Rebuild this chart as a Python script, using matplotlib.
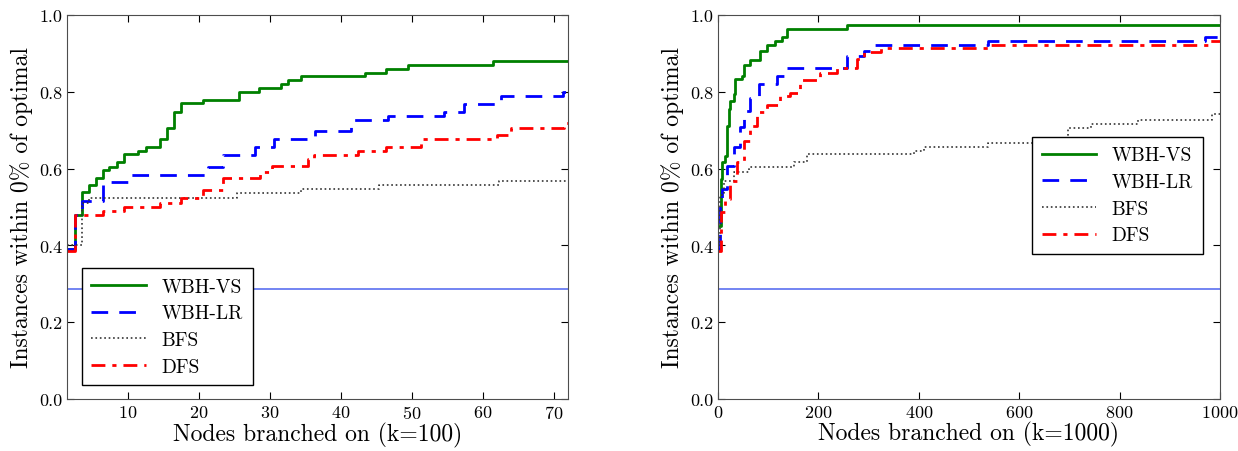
import matplotlib
matplotlib.use('Agg')
import matplotlib.pyplot as plt

plt.rcParams['font.family'] = 'serif'
plt.rcParams['font.serif'] = ['cmr10']
plt.rcParams['mathtext.fontset'] = 'cm'
plt.rcParams['axes.formatter.use_mathtext'] = True

# k=100 panel
l_vs_x = [1.4, 2.5, 3.5, 4.55, 5.5, 6.5, 7.3, 8.5, 9.5, 11.4, 12.6, 14.5, 15.5, 16.5, 17.5, 20.6, 25.6, 28.5, 31.5, 32.5, 34.4, 43.4, 46.3, 49.4, 61.4, 72]
l_vs_y = [0.39, 0.48, 0.54, 0.556, 0.575, 0.596, 0.605, 0.617, 0.638, 0.647, 0.657, 0.677, 0.707, 0.747, 0.77, 0.779, 0.80, 0.81, 0.82, 0.83, 0.841, 0.85, 0.86, 0.87, 0.88, 0.88]
l_lr_x = [1.4, 2.5, 3.5, 6.5, 10.3, 21.3, 23.4, 27.9, 30.5, 36.4, 41.4, 46.7, 54.5, 57.3, 62.5, 71.3, 72]
l_lr_y = [0.39, 0.48, 0.515, 0.565, 0.584, 0.605, 0.636, 0.657, 0.677, 0.698, 0.727, 0.738, 0.748, 0.768, 0.789, 0.80, 0.80]
l_bfs_x = [1.4, 3.5, 4.5, 25.4, 34.4, 45.3, 62.3, 72]
l_bfs_y = [0.40, 0.51, 0.523, 0.536, 0.546, 0.557, 0.567, 0.567]
l_dfs_x = [1.4, 2.5, 6.5, 9.5, 14.5, 17.4, 20.6, 23.4, 28.6, 30.3, 35.3, 36.2, 42.4, 46.3, 51.3, 62, 63.9, 71.5, 72]
l_dfs_y = [0.385, 0.48, 0.49, 0.50, 0.51, 0.523, 0.544, 0.575, 0.59, 0.606, 0.626, 0.636, 0.647, 0.657, 0.677, 0.687, 0.707, 0.72, 0.72]

# k=1000 panel
r_vs_x = [0, 5, 7, 14, 17, 21, 24, 31, 34, 47, 51, 64, 84, 97, 114, 127, 137, 257, 1000]
r_vs_y = [0.45, 0.573, 0.616, 0.634, 0.712, 0.755, 0.777, 0.794, 0.833, 0.842, 0.871, 0.883, 0.905, 0.922, 0.933, 0.944, 0.964, 0.974, 0.974]
r_lr_x = [0, 4, 7, 17, 31, 43, 51, 64, 81, 117, 131, 257, 291, 311, 537, 971, 1000]
r_lr_y = [0.39, 0.52, 0.547, 0.608, 0.655, 0.708, 0.75, 0.783, 0.82, 0.842, 0.861, 0.894, 0.905, 0.922, 0.931, 0.944, 0.944]
r_bfs_x = [0, 4, 11, 31, 61, 151, 177, 391, 411, 537, 671, 697, 744, 837, 984, 1000]
r_bfs_y = [0.40, 0.53, 0.567, 0.59, 0.605, 0.616, 0.638, 0.647, 0.657, 0.667, 0.677, 0.707, 0.717, 0.727, 0.742, 0.742]
r_dfs_x = [0, 5, 14, 24, 37, 51, 64, 77, 97, 124, 144, 164, 204, 237, 277, 291, 324, 544, 977, 1000]
r_dfs_y = [0.385, 0.486, 0.52, 0.567, 0.616, 0.673, 0.71, 0.747, 0.765, 0.789, 0.798, 0.83, 0.849, 0.861, 0.885, 0.903, 0.913, 0.922, 0.933, 0.933]

baseline = 0.286
labels = ['WBH-VS', 'WBH-LR', 'BFS', 'DFS']

fig = plt.figure(figsize=(12.38, 4.52), dpi=100)
ax1 = fig.add_axes([67/1238, 1-400/452, 501/1238, 384/452])
ax2 = fig.add_axes([718/1238, 1-400/452, 502/1238, 384/452])

def draw(ax, series, xlim, xlabel):
    styles = [dict(color='green', ls='-'),
              dict(color='blue', ls=(0, (6, 4))),
              dict(color='0.2', ls=':'),
              dict(color='red', ls=(0, (5, 2.5, 1.5, 2.5)))]
    for (x, y), lab, st in zip(series, labels, styles):
        ax.plot(x, y, drawstyle='steps-post', lw=2 if st['ls'] != ':' else 1.2, label=lab, **st)
    ax.axhline(baseline, color='#5b6ff0', lw=1.2)
    ax.set_xlim(*xlim)
    ax.set_ylim(0, 1.0)
    ax.set_yticks([0.0, 0.2, 0.4, 0.6, 0.8, 1.0])
    ax.set_yticklabels(['0.0', '0.2', '0.4', '0.6', '0.8', '1.0'])
    ax.tick_params(direction='in', top=True, right=True, labelsize=13, length=5)
    ax.set_xlabel(xlabel, fontsize=17, labelpad=1)
    ax.set_ylabel('Instances within 0% of optimal', fontsize=17, labelpad=4)
    for s in ax.spines.values():
        s.set_color('0.3')

draw(ax1, [(l_vs_x, l_vs_y), (l_lr_x, l_lr_y), (l_bfs_x, l_bfs_y), (l_dfs_x, l_dfs_y)], (1.4, 72), 'Nodes branched on (k=100)')
ax1.set_xticks([10, 20, 30, 40, 50, 60, 70])
ax1.legend(loc='lower left', bbox_to_anchor=(0.01, 0.01), fontsize=14, handlelength=2.8,
           fancybox=False, edgecolor='black', framealpha=1, borderpad=0.5, labelspacing=0.45)

draw(ax2, [(r_vs_x, r_vs_y), (r_lr_x, r_lr_y), (r_bfs_x, r_bfs_y), (r_dfs_x, r_dfs_y)], (0, 1000), 'Nodes branched on (k=1000)')
ax2.set_xticks([0, 200, 400, 600, 800, 1000])
ax2.legend(loc='center right', bbox_to_anchor=(0.985, 0.53), fontsize=14, handlelength=2.8,
           fancybox=False, edgecolor='black', framealpha=1, borderpad=0.5, labelspacing=0.45)

fig.savefig('out.png', dpi=100)
